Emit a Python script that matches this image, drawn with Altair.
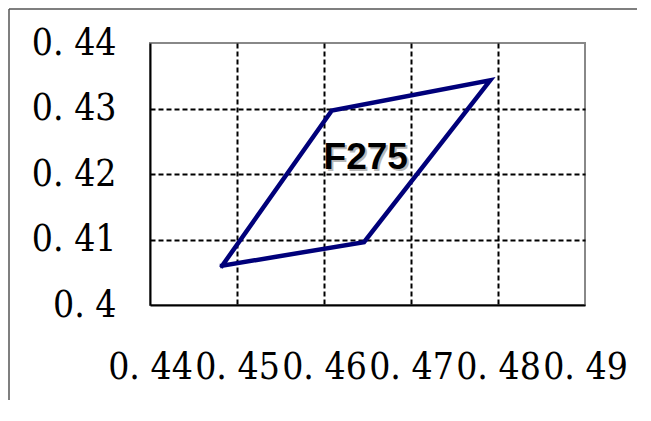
import altair as alt
import pandas as pd

# parallelogram vertices (closed loop)
loop_x = [0.4483, 0.4646, 0.4791, 0.4609, 0.4483]
loop_y = [0.4060, 0.4096, 0.4343, 0.4297, 0.4060]
loop_order = [0, 1, 2, 3, 4]

x_ticks = [0.44, 0.45, 0.46, 0.47, 0.48, 0.49]
y_ticks = [0.40, 0.41, 0.42, 0.43, 0.44]

label_text = ["F275"]
label_x = [0.4648]
label_y = [0.4207]

loop_df = pd.DataFrame({"x": loop_x, "y": loop_y, "o": loop_order})
label_df = pd.DataFrame({"x": label_x, "y": label_y, "t": label_text})

xscale = alt.Scale(domain=[0.44, 0.49], nice=False, zero=False)
yscale = alt.Scale(domain=[0.40, 0.44], nice=False, zero=False)

FONT = "DejaVu Serif Condensed"
lab_expr = "replace(format(datum.value, '.2~f'), '.', '. ')"
edge_x = "datum.value < 0.4405 || datum.value > 0.4895"
edge_y = "datum.value < 0.4005 || datum.value > 0.4395"

xaxis = alt.Axis(
    values=x_ticks, title=None, ticks=False, labelExpr=lab_expr,
    labelFont=FONT, labelFontSize=37, labelColor="#000000",
    labelPadding=44, labelOverlap=False, labelFlush=False,
    domainColor="#000000", domainWidth=2,
    grid=True, gridColor="#000000", gridWidth=2, gridDash=[5, 3],
    gridOpacity={"condition": {"test": edge_x, "value": 0}, "value": 1},
)
yaxis = alt.Axis(
    values=y_ticks, title=None, ticks=False, labelExpr=lab_expr,
    labelFont=FONT, labelFontSize=37, labelColor="#000000",
    labelPadding=34, labelOverlap=False, labelFlush=False,
    domainColor="#000000", domainWidth=2,
    grid=True, gridColor="#000000", gridWidth=2, gridDash=[5, 3],
    gridOpacity={"condition": {"test": edge_y, "value": 0}, "value": 1},
)

loop = alt.Chart(loop_df).mark_line(
    color="#00007a", strokeWidth=4.5, strokeJoin="miter", strokeCap="square"
).encode(
    x=alt.X("x:Q", scale=xscale, axis=xaxis),
    y=alt.Y("y:Q", scale=yscale, axis=yaxis),
    order="o:O",
)

TXT = dict(font="Liberation Sans", fontWeight="bold", fontSize=37,
           align="center", baseline="alphabetic")
shadow = alt.Chart(label_df).mark_text(color="#8a8a8a", opacity=0.6, dx=2, dy=2, **TXT).encode(
    x=alt.X("x:Q", scale=xscale), y=alt.Y("y:Q", scale=yscale), text="t:N")
label = alt.Chart(label_df).mark_text(color="#000000", **TXT).encode(
    x=alt.X("x:Q", scale=xscale), y=alt.Y("y:Q", scale=yscale), text="t:N")

frame_top = alt.Chart(label_df).mark_rule(color="#555555", strokeWidth=1.5).encode(
    x=alt.value(-141), x2=alt.value(490), y=alt.value(-34)
)
frame_left = alt.Chart(label_df).mark_rule(color="#555555", strokeWidth=1.5).encode(
    x=alt.value(-141), y=alt.value(-34), y2=alt.value(360)
)

chart = alt.layer(frame_top, frame_left, loop, shadow, label).properties(
    width=435, height=262,
    padding={"left": 142, "top": 35, "right": 52, "bottom": 95},
    autosize=alt.AutoSizeParams(type="none"),
).configure_view(stroke="#888888", strokeWidth=2)

chart.save("out.html", embed_options={"renderer": "svg", "actions": False})
